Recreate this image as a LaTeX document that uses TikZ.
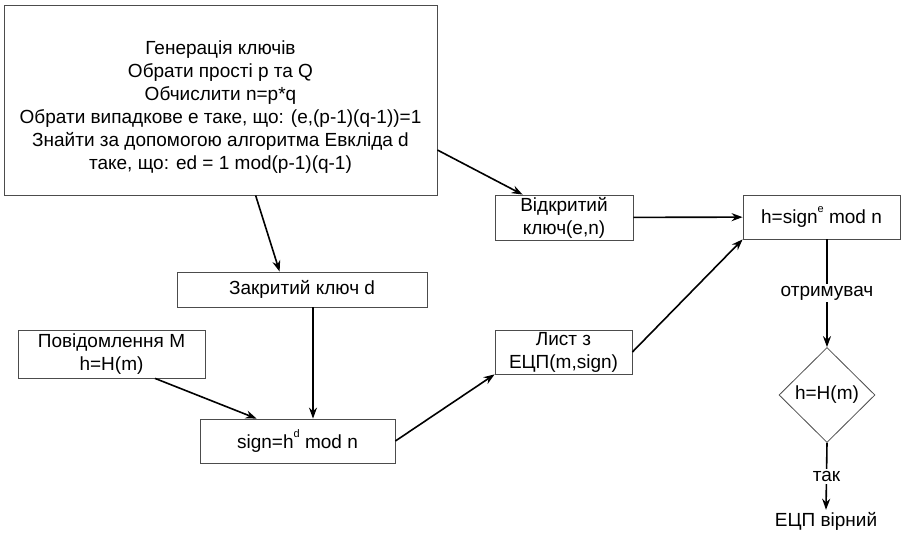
\documentclass[tikz,border=0pt]{standalone}
\usepackage{fontspec}
\setmainfont{Liberation Sans}
\usepackage{xcolor}
\usepackage{tikz}
\usetikzlibrary{shapes.geometric,arrows.meta}
\newcommand{\supsmall}[1]{\raisebox{0.55em}{\fontsize{11}{11}\selectfont #1}}
\tikzstyle{block} = [rectangle, draw=black!70, line width=0.8pt, align=center, inner sep=2pt, font=\fontsize{19}{23}\selectfont]
\tikzstyle{decision} = [diamond, draw=black!70, line width=0.8pt, aspect=1, inner sep=0pt, minimum width=96pt, minimum height=95pt, font=\fontsize{19}{23}\selectfont]
\tikzstyle{plain} = [inner sep=2pt, font=\fontsize{19}{23}\selectfont]
\tikzstyle{arrow} = [line width=1.6pt,->,>={Stealth[length=11pt,width=8pt]}]

\begin{document}
\begin{tikzpicture}[x=1pt, y=-1pt]
    \useasboundingbox (0,0) rectangle (903,534);
    \node (keygen) [block, minimum width=433pt, minimum height=190pt] at (220.5,100) {\rule{0pt}{28pt}Генерація ключів\\Обрати прості р та Q\\Обчислити n=р*q\\Обрати випадкове е таке, що: (е,(р-1)(q-1))=1\\Знайти за допомогою алгоритма Евкліда d\\таке, що: ed = 1 mod(p-1)(q-1)};
    \node (pub) [block, minimum width=138pt, minimum height=45pt] at (564,217.5) {Відкритий\\ключ(е,n)};
    \node (verify) [block, minimum width=157pt, minimum height=44pt] at (821.5,217) {h=sign\supsmall{e} mod n};
    \node (priv) [block, minimum width=250pt, minimum height=35pt] at (302,289.5) {Закритий ключ d};
    \node (msg) [block, minimum width=187pt, minimum height=48pt] at (111.5,354) {Повідомлення М\\h=H(m)};
    \node (sheet) [block, minimum width=137pt, minimum height=44pt] at (563.5,352) {Лист з\\ЕЦП(m,sign)};
    \node (sign) [block, minimum width=195pt, minimum height=44pt] at (297.5,441) {sign=h\supsmall{d} mod n};
    \node (check) [decision] at (827,395) {h=H(m)};
    \node (valid) [plain] at (826,521) {ЕЦП вірний};
    \draw [arrow] ([yshift=-50pt]keygen.east) -- ([xshift=28pt]pub.north west);
    \draw [arrow] ([xshift=252pt]keygen.south west) -- ([xshift=103pt]priv.north west);
    \draw [arrow] (pub) -- (verify);
    \draw [arrow] ([xshift=11pt]priv.south) -- ([xshift=11pt]priv.south |- sign.north);
    \draw [arrow] ([xshift=43.5pt]msg.south) -- ([xshift=57pt]sign.north west);
    \draw [arrow] (sign.east) -- (sheet.south west);
    \draw [arrow] (sheet.east) -- (verify.south west);
    \draw [arrow] (verify.south -| check.north) -- node[plain, fill=white] {отримувач} (check.north);
    \draw [arrow] (check.south) -- node[plain, fill=white] {так} (valid.north);
\end{tikzpicture}
\end{document}
